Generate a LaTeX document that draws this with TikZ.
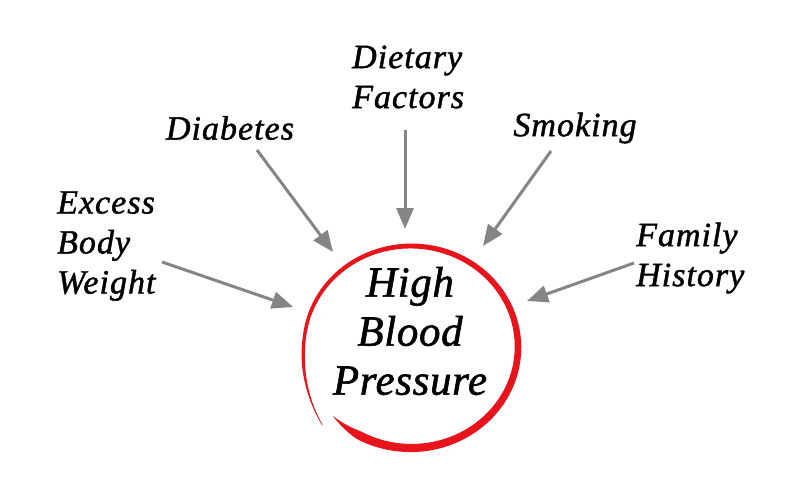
\documentclass[tikz,border=0pt]{standalone}
\usepackage{fontspec}
\setmainfont{Liberation Serif}
\newfontfamily\heavyital[FakeBold=1.3,LetterSpace=3]{Liberation Serif Italic}
\newfontfamily\heavyitalc[FakeBold=1.3,LetterSpace=1.5]{Liberation Serif Italic}
\usetikzlibrary{arrows.meta}
\definecolor{arrowgrey}{HTML}{858585}
\definecolor{ringred}{HTML}{E8141C}
\tikzset{
  x=1pt, y=-1pt,
  label/.style={inner sep=0pt, align=left, font=\heavyital\fontsize{34}{40}\selectfont},
  centre/.style={inner sep=0pt, align=center, font=\heavyitalc\fontsize{43}{49}\selectfont},
  causearrow/.style={draw=arrowgrey, line width=3pt, -{Triangle[length=21pt,width=17pt]}},
  declare function={
    wd(\s)=max(0.6,(9-6.5*\s))*min(1,\s/0.05)*min(1,(1-\s)/0.12+0.25);
    dr(\s)=14*pow(max(0,(\s-0.85)/0.15),2);
    th(\s)=137-360*\s;
  }
}
\begin{document}
\begin{tikzpicture}
\path[fill=white] (0,0) rectangle (800,490);
\useasboundingbox (0,0) rectangle (800,490);

% red hand-drawn ring
\fill[ringred]
  plot[domain=0:1, samples=200, variable=\s]
    ({411+(107+dr(\s)+wd(\s)/2)*cos(th(\s))},{347+(101+dr(\s)+wd(\s)/2)*sin(th(\s))})
  -- plot[domain=1:0, samples=200, variable=\s]
    ({411+(107+dr(\s)-wd(\s)/2)*cos(th(\s))},{347+(101+dr(\s)-wd(\s)/2)*sin(th(\s))})
  -- cycle;

\node[centre] (hbp) at (410,331) {High\\Blood\\Pressure};

\node[label, anchor=west] (diet) at (352,77) {Dietary\\Factors};
\node[label] (diab) at (230,128) {Diabetes};
\node[label] (smok) at (575,128) {Smoking};
\node[label, anchor=west] (excess) at (57,246) {Excess\\Body\\Weight};
\node[label, anchor=west] (family) at (636,258) {Family\\History};

\coordinate (dietS) at (405,130);  \coordinate (dietE) at (405,229);
\coordinate (diabS) at (257,150);  \coordinate (diabE) at (333,252);
\coordinate (smokS) at (551,151);  \coordinate (smokE) at (483,246);
\coordinate (excS) at (162,262);   \coordinate (excE) at (293,307);
\coordinate (famS) at (634,263);   \coordinate (famE) at (527,301);

\draw[causearrow] (dietS) -- (dietE);
\draw[causearrow] (diabS) -- (diabE);
\draw[causearrow] (smokS) -- (smokE);
\draw[causearrow] (excS) -- (excE);
\draw[causearrow] (famS) -- (famE);
\end{tikzpicture}
\end{document}
